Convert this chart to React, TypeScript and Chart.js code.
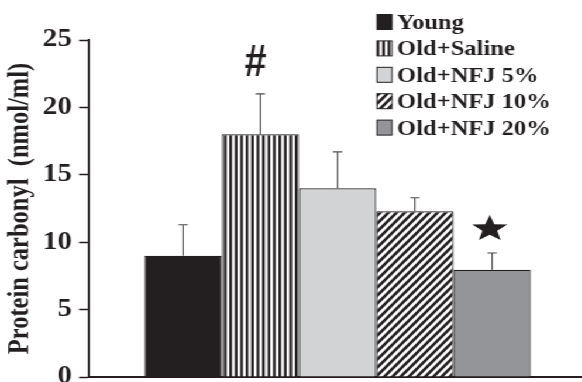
import React, { useEffect, useRef } from "react";
import { Chart, registerables } from "chart.js";

Chart.register(...registerables);

// ---- data ----
const groups = ["Young", "Old+Saline", "Old+NFJ 5%", "Old+NFJ 10%", "Old+NFJ 20%"];
const means = [9.0, 18.0, 14.0, 12.3, 7.95];
const errors = [2.3, 3.0, 2.7, 1.0, 1.25];
const markers = ["", "#", "", "", "★"];
const yTitle = "Protein carbonyl  (nmol/ml)";
const yMin = 0;
const yMax = 25;
const yStep = 5;

// ---- styling ----
const INK = "#231f20";
const SX = 1.17; // horizontal stretch of the figure
const W = 501;
const H = 400;
const SERIF = "'Liberation Serif', 'Times New Roman', serif";

function makeStripes(): CanvasPattern | string {
  const c = document.createElement("canvas");
  c.width = 14;
  c.height = 4;
  const g = c.getContext("2d");
  if (!g) return "#888";
  g.fillStyle = "#ffffff";
  g.fillRect(0, 0, 14, 4);
  g.fillStyle = INK;
  for (let k = 0; k < 3; k++) g.fillRect(k * (14 / 3), 0, 2.3, 4);
  return g.createPattern(c, "repeat") || "#888";
}

function makeHatch(): CanvasPattern | string {
  const w = 7, h = 8;
  const c = document.createElement("canvas");
  c.width = w;
  c.height = h;
  const g = c.getContext("2d");
  if (!g) return "#888";
  g.fillStyle = "#ffffff";
  g.fillRect(0, 0, w, h);
  g.strokeStyle = INK;
  g.lineWidth = 2.6;
  g.lineCap = "square";
  for (const off of [-w, 0, w]) {
    g.beginPath();
    g.moveTo(off, h);
    g.lineTo(off + w, 0);
    g.stroke();
  }
  return g.createPattern(c, "repeat") || "#888";
}

function drawStar(ctx: CanvasRenderingContext2D, cx: number, cy: number, R: number, sy: number) {
  const r = R * 0.42;
  ctx.beginPath();
  for (let k = 0; k < 10; k++) {
    const a = -Math.PI / 2 + (k * Math.PI) / 5;
    const rad = k % 2 === 0 ? R : r;
    const x = cx + rad * Math.cos(a);
    const y = cy + rad * Math.sin(a) * sy;
    if (k === 0) ctx.moveTo(x, y);
    else ctx.lineTo(x, y);
  }
  ctx.closePath();
  ctx.fill();
}

export default function App() {
  const ref = useRef<HTMLCanvasElement | null>(null);

  useEffect(() => {
    const canvas = ref.current;
    if (!canvas) return;
    document.body.style.overflow = "hidden";

    const fills: (string | CanvasPattern)[] = [INK, makeStripes(), "#d1d3d4", makeHatch(), "#939598"];

    const decor = {
      id: "decor",
      afterDatasetsDraw(chart: any) {
        const ctx: CanvasRenderingContext2D = chart.ctx;
        const ys = chart.scales.y;
        ctx.save();
        groups.forEach((_, i) => {
          const meta = chart.getDatasetMeta(i);
          const bar = meta.data[0];
          if (!bar) return;
          const x = bar.x;
          const yBar = ys.getPixelForValue(means[i]);
          const yErr = ys.getPixelForValue(means[i] + errors[i]);
          ctx.strokeStyle = "#4a4a4a";
          ctx.lineWidth = 1.1;
          ctx.beginPath();
          ctx.moveTo(x, yBar);
          ctx.lineTo(x, yErr);
          ctx.moveTo(x - 4, yErr);
          ctx.lineTo(x + 4, yErr);
          ctx.stroke();

          const m = markers[i];
          ctx.fillStyle = INK;
          if (m === "★") {
            const R = 15.8, sy = 0.87;
            const cy = yErr - 13 - 0.809 * R * sy;
            drawStar(ctx, x - 2, cy, R, sy);
          } else if (m) {
            ctx.save();
            ctx.translate(x - 4, yErr - 18);
            ctx.scale(0.75, 1);
            ctx.font = "bold 45px 'Liberation Sans', Arial, sans-serif";
            ctx.textAlign = "center";
            ctx.textBaseline = "alphabetic";
            ctx.fillText(m, 0, 0);
            ctx.restore();
          }
        });
        ctx.restore();
      },
      afterDraw(chart: any) {
        const ctx: CanvasRenderingContext2D = chart.ctx;
        ctx.save();
        const boxX = 377 / SX;
        const boxW = 15 / SX;
        const boxH = 15;
        const textX = 397 / SX;
        ctx.font = `bold 21px ${SERIF}`;
        ctx.textAlign = "left";
        ctx.textBaseline = "alphabetic";
        groups.forEach((g, i) => {
          const cy = 22 + i * 26.4;
          const ds = chart.data.datasets[i];
          ctx.fillStyle = ds.backgroundColor;
          ctx.fillRect(boxX, cy - boxH / 2, boxW, boxH);
          ctx.strokeStyle = INK;
          ctx.lineWidth = 1;
          ctx.strokeRect(boxX, cy - boxH / 2, boxW, boxH);
          ctx.fillStyle = INK;
          ctx.fillText(g, textX, cy + 7);
        });
        ctx.restore();
      },
    };

    const chart = new Chart(canvas, {
      type: "bar",
      data: {
        labels: [""],
        datasets: groups.map((g, i) => ({
          label: g,
          data: [means[i]],
          backgroundColor: fills[i] as any,
          borderColor: INK,
          borderWidth: 1.2,
          categoryPercentage: 0.777,
          barPercentage: 1,
        })),
      },
      options: {
        responsive: false,
        animation: false,
        devicePixelRatio: 1,
        layout: { padding: { top: 40, right: 0, bottom: 0, left: 0 } },
        plugins: { legend: { display: false }, tooltip: { enabled: false } },
        scales: {
          x: {
            ticks: { display: false },
            grid: { display: false },
            border: { display: true, color: INK, width: 2 },
            afterFit: (s: any) => {
              s.height = H - 377;
            },
          },
          y: {
            min: yMin,
            max: yMax,
            ticks: {
              stepSize: yStep,
              color: INK,
              padding: 6,
              font: { family: SERIF, size: 25, weight: "bold" },
            },
            grid: {
              drawOnChartArea: false,
              drawTicks: true,
              tickLength: 8.5,
              tickColor: INK,
              tickWidth: 1.5,
            },
            border: { display: true, color: INK, width: 1.8 },
            title: {
              display: true,
              text: yTitle,
              color: INK,
              padding: { top: 3, bottom: 0 },
              font: { family: SERIF, size: 24.5, weight: "bold" },
            },
            afterFit: (s: any) => {
              s.width = 89 / SX;
            },
          },
        },
      },
      plugins: [decor],
    } as any);

    return () => {
      chart.destroy();
    };
  }, []);

  return (
    <div
      style={{
        position: "fixed",
        left: 0,
        top: 0,
        width: W,
        height: H,
        transform: `scaleX(${SX})`,
        transformOrigin: "0 0",
        background: "#fff",
      }}
    >
      <canvas ref={ref} width={W} height={H} style={{ display: "block", width: W, height: H }} />
    </div>
  );
}
